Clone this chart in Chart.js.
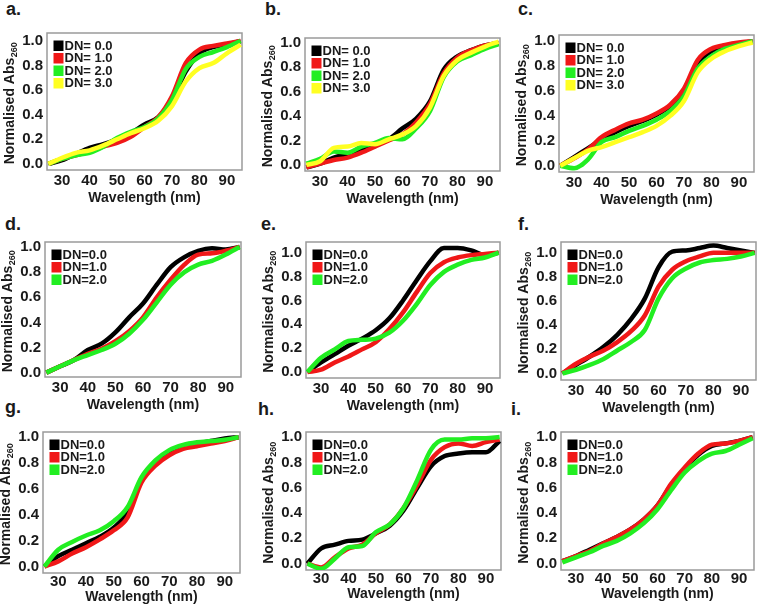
<!DOCTYPE html>
<html>
<head>
<meta charset="utf-8">
<script src="https://cdn.jsdelivr.net/npm/chart.js@4.4.0/dist/chart.umd.min.js"></script>
<style>
  body { margin: 0; background: #fff; width: 758px; height: 607px; position: relative; overflow: hidden; }
  canvas.p { position: absolute; }
  .lbl { position: absolute; font: bold 18px "Liberation Sans", Arial, sans-serif; line-height: 18px; color: #1a1a1a; }
</style>
</head>
<body>
<div class="lbl" style="left:6px;top:0px">a.</div>
<div class="lbl" style="left:265px;top:0px">b.</div>
<div class="lbl" style="left:518px;top:0px">c.</div>
<div class="lbl" style="left:5px;top:215px">d.</div>
<div class="lbl" style="left:261px;top:215px">e.</div>
<div class="lbl" style="left:518px;top:215px">f.</div>
<div class="lbl" style="left:5px;top:398px">g.</div>
<div class="lbl" style="left:258px;top:400px">h.</div>
<div class="lbl" style="left:511px;top:400px">i.</div>

<canvas class="p" id="ca"></canvas>
<canvas class="p" id="cb"></canvas>
<canvas class="p" id="cc"></canvas>
<canvas class="p" id="cd"></canvas>
<canvas class="p" id="ce"></canvas>
<canvas class="p" id="cf"></canvas>
<canvas class="p" id="cg"></canvas>
<canvas class="p" id="ch"></canvas>
<canvas class="p" id="ci"></canvas>

<script>
// --- data ---
const wavelength = [25, 30, 35, 40, 45, 50, 55, 60, 65, 70, 75, 80, 85, 90, 95];
const xTicks = [30, 40, 50, 60, 70, 80, 90];
const yTicks = [0, 0.2, 0.4, 0.6, 0.8, 1.0];
const labels4 = ['DN= 0.0', 'DN= 1.0', 'DN= 2.0', 'DN= 3.0'];
const labels3 = ['DN=0.0', 'DN=1.0', 'DN=2.0'];

// a.
const aDN0 = [0.00, 0.03, 0.08, 0.13, 0.16, 0.20, 0.25, 0.32, 0.38, 0.52, 0.75, 0.90, 0.95, 0.97, 1.00];
const aDN1 = [0.00, 0.04, 0.07, 0.10, 0.14, 0.17, 0.22, 0.30, 0.38, 0.55, 0.82, 0.93, 0.96, 0.98, 1.00];
const aDN2 = [0.00, 0.04, 0.07, 0.09, 0.14, 0.21, 0.26, 0.30, 0.37, 0.52, 0.77, 0.87, 0.91, 0.95, 1.00];
const aDN3 = [0.00, 0.05, 0.09, 0.11, 0.15, 0.20, 0.25, 0.29, 0.35, 0.47, 0.67, 0.78, 0.82, 0.90, 0.97];
// b.
const bDN0 = [-0.02, 0.01, 0.06, 0.09, 0.12, 0.16, 0.21, 0.30, 0.38, 0.52, 0.78, 0.89, 0.94, 0.98, 1.00];
const bDN1 = [-0.02, 0.01, 0.04, 0.06, 0.10, 0.15, 0.20, 0.25, 0.35, 0.50, 0.75, 0.88, 0.94, 0.98, 1.00];
const bDN2 = [0.01, 0.05, 0.11, 0.10, 0.15, 0.18, 0.22, 0.21, 0.30, 0.44, 0.72, 0.85, 0.90, 0.95, 0.99];
const bDN3 = [0.00, 0.03, 0.14, 0.15, 0.18, 0.17, 0.21, 0.25, 0.32, 0.47, 0.73, 0.86, 0.92, 0.97, 1.01];
// c.
const cDN0 = [0.00, 0.07, 0.14, 0.21, 0.27, 0.32, 0.36, 0.41, 0.48, 0.60, 0.82, 0.92, 0.96, 0.98, 1.00];
const cDN1 = [0.00, 0.06, 0.13, 0.23, 0.29, 0.34, 0.37, 0.42, 0.49, 0.62, 0.85, 0.94, 0.97, 0.99, 1.00];
const cDN2 = [0.00, -0.02, 0.05, 0.19, 0.23, 0.28, 0.32, 0.37, 0.44, 0.56, 0.78, 0.88, 0.94, 0.97, 1.00];
const cDN3 = [0.00, 0.06, 0.12, 0.15, 0.19, 0.23, 0.27, 0.32, 0.40, 0.52, 0.75, 0.86, 0.92, 0.96, 0.99];
// d.
const dDN0 = [0.00, 0.05, 0.10, 0.18, 0.23, 0.32, 0.44, 0.55, 0.70, 0.84, 0.92, 0.97, 0.99, 0.98, 1.00];
const dDN1 = [0.00, 0.05, 0.10, 0.15, 0.19, 0.25, 0.33, 0.44, 0.60, 0.74, 0.86, 0.94, 0.95, 0.97, 1.00];
const dDN2 = [0.00, 0.05, 0.10, 0.14, 0.18, 0.23, 0.31, 0.42, 0.56, 0.70, 0.80, 0.86, 0.89, 0.94, 1.00];
// e.
const eDN0 = [0.00, 0.08, 0.15, 0.22, 0.28, 0.35, 0.45, 0.60, 0.77, 0.93, 1.04, 1.04, 1.02, 0.98, 1.00];
const eDN1 = [0.00, 0.02, 0.08, 0.13, 0.19, 0.25, 0.36, 0.50, 0.67, 0.83, 0.92, 0.96, 0.98, 0.99, 1.00];
const eDN2 = [0.00, 0.12, 0.19, 0.26, 0.27, 0.28, 0.33, 0.43, 0.57, 0.73, 0.84, 0.90, 0.94, 0.96, 1.00];
// f.
const fDN0 = [0.00, 0.07, 0.14, 0.22, 0.32, 0.45, 0.62, 0.88, 1.01, 1.02, 1.04, 1.06, 1.04, 1.02, 1.00];
const fDN1 = [0.00, 0.08, 0.14, 0.19, 0.26, 0.35, 0.48, 0.72, 0.86, 0.93, 0.97, 1.00, 1.00, 1.00, 1.00];
const fDN2 = [0.00, 0.03, 0.07, 0.12, 0.19, 0.26, 0.36, 0.62, 0.79, 0.87, 0.92, 0.94, 0.95, 0.97, 1.00];
// g.
const gDN0 = [0.00, 0.08, 0.13, 0.18, 0.23, 0.30, 0.42, 0.68, 0.80, 0.88, 0.93, 0.95, 0.97, 0.99, 1.00];
const gDN1 = [0.00, 0.04, 0.10, 0.15, 0.21, 0.28, 0.38, 0.65, 0.78, 0.86, 0.91, 0.93, 0.95, 0.97, 1.00];
const gDN2 = [0.00, 0.13, 0.19, 0.24, 0.28, 0.35, 0.46, 0.69, 0.82, 0.90, 0.94, 0.96, 0.97, 0.98, 1.00];
// h.
const hDN0 = [0.00, 0.12, 0.15, 0.18, 0.19, 0.24, 0.30, 0.42, 0.60, 0.77, 0.85, 0.87, 0.88, 0.88, 0.97];
const hDN1 = [0.00, -0.03, 0.05, 0.12, 0.15, 0.24, 0.31, 0.44, 0.62, 0.82, 0.92, 0.95, 0.93, 0.96, 0.98];
const hDN2 = [0.00, -0.04, 0.04, 0.13, 0.14, 0.25, 0.31, 0.44, 0.66, 0.90, 0.98, 0.98, 0.99, 0.99, 1.00];
// i.
const iDN0 = [0.02, 0.06, 0.11, 0.16, 0.21, 0.27, 0.35, 0.46, 0.62, 0.75, 0.86, 0.93, 0.95, 0.97, 1.00];
const iDN1 = [0.02, 0.06, 0.10, 0.16, 0.21, 0.27, 0.35, 0.46, 0.63, 0.76, 0.87, 0.94, 0.95, 0.97, 1.00];
const iDN2 = [0.01, 0.05, 0.09, 0.14, 0.18, 0.24, 0.32, 0.43, 0.58, 0.72, 0.81, 0.87, 0.89, 0.94, 0.99];

const colours = ['#000000', '#f01818', '#22ee22', '#ffff22'];
const FONT = '"Liberation Sans", Arial, sans-serif';
const TXT = '#1a1a1a';

// frame around the plot area
const frame = {
  id: 'frame',
  beforeDatasetsDraw(chart) {
    const a = chart.chartArea, ctx = chart.ctx;
    ctx.save();
    ctx.strokeStyle = '#9a9a9a';
    ctx.lineWidth = 1.5;
    ctx.strokeRect(a.left, a.top, a.right - a.left, a.bottom - a.top);
    ctx.restore();
  }
};

// legend squares inside the top-left corner
const cornerLegend = {
  id: 'cornerLegend',
  afterDatasetsDraw(chart) {
    const a = chart.chartArea, ctx = chart.ctx;
    ctx.save();
    ctx.font = 'bold 13px ' + FONT;
    ctx.textBaseline = 'middle';
    chart.data.datasets.forEach((ds, i) => {
      const x = a.left + 6.5, y = a.top + 7.5 + i * 12.5;
      ctx.fillStyle = ds.borderColor;
      ctx.fillRect(x, y, 10, 10.5);
      ctx.fillStyle = TXT;
      ctx.fillText(ds.label, x + 11, y + 5.5);
    });
    ctx.restore();
  }
};

// rotated y title with subscript
const yTitle = {
  id: 'yTitle',
  afterDraw(chart) {
    const a = chart.chartArea, ctx = chart.ctx;
    const main = 'Normalised Abs', sub = '260';
    ctx.save();
    ctx.fillStyle = TXT;
    ctx.font = 'bold 14px ' + FONT;
    const w1 = ctx.measureText(main).width;
    ctx.font = 'bold 9px ' + FONT;
    const w2 = ctx.measureText(sub).width;
    ctx.translate(a.left - 37, (a.top + a.bottom) / 2 + 2);
    ctx.rotate(-Math.PI / 2);
    ctx.textBaseline = 'middle';
    ctx.font = 'bold 14px ' + FONT;
    ctx.fillText(main, -(w1 + w2) / 2, 0);
    ctx.font = 'bold 9px ' + FONT;
    ctx.fillText(sub, -(w1 + w2) / 2 + w1 + 0.5, 5);
    ctx.restore();
  }
};

const YW = 40;
// canvas cell and plot box for each panel (page pixels)
function panel(id, cell, box, yr, series, names, xh, tickPad) {
  const cv = document.getElementById(id);
  cv.width = cell[2]; cv.height = cell[3];
  cv.style.left = cell[0] + 'px'; cv.style.top = cell[1] + 'px';
  cv.style.width = cell[2] + 'px'; cv.style.height = cell[3] + 'px';
  const n = series.length;
  new Chart(cv, {
    type: 'line',
    data: {
      datasets: series.map((s, i) => ({
        label: names[i],
        data: wavelength.map((w, k) => ({ x: w, y: s[k] })),
        borderColor: colours[i],
        backgroundColor: colours[i],
        borderWidth: 4.5,
        pointRadius: 0,
        cubicInterpolationMode: 'monotone',
        order: n - i
      }))
    },
    options: {
      responsive: false,
      animation: false,
      events: [],
      layout: {
        padding: {
          left: box[0] - cell[0] - YW,
          top: box[1] - cell[1],
          right: cell[0] + cell[2] - box[2],
          bottom: cell[1] + cell[3] - box[3] - xh
        }
      },
      plugins: { legend: { display: false }, tooltip: { enabled: false } },
      scales: {
        x: {
          type: 'linear', min: 24.5, max: 95.5,
          grid: { display: false, drawTicks: false },
          border: { display: false },
          afterBuildTicks: s => { s.ticks = xTicks.map(v => ({ value: v })); },
          afterFit: s => { s.height = xh; },
          ticks: { font: { family: FONT, size: 15, weight: 'bold' }, color: TXT, padding: tickPad, maxRotation: 0 },
          title: { display: true, text: 'Wavelength (nm)', font: { family: FONT, size: 14, weight: 'bold' }, color: TXT, padding: 0 }
        },
        y: {
          min: yr[0], max: yr[1],
          grid: { display: false, drawTicks: false },
          border: { display: false },
          afterBuildTicks: s => { s.ticks = yTicks.map(v => ({ value: v })); },
          afterFit: s => { s.width = YW; },
          ticks: { font: { family: FONT, size: 15, weight: 'bold' }, color: TXT, padding: 4, callback: v => v.toFixed(1) }
        }
      }
    },
    plugins: [frame, cornerLegend, yTitle]
  });
}

panel('ca', [0, 0, 253, 215],   [47, 33, 242, 170],   [-0.05, 1.065], [aDN0, aDN1, aDN2, aDN3], labels4, 37, 2);
panel('cb', [253, 0, 253, 215], [305, 38, 500, 171],  [-0.05, 1.04],  [bDN0, bDN1, bDN2, bDN3], labels4, 37, 2);
panel('cc', [506, 0, 252, 215], [559, 35, 754, 172],  [-0.05, 1.05],  [cDN0, cDN1, cDN2, cDN3], labels4, 37, 2);
panel('cd', [0, 200, 253, 215], [45, 242, 241, 377],  [-0.035, 1.04], [dDN0, dDN1, dDN2], labels3, 37, 2);
panel('ce', [253, 200, 253, 215], [306, 242, 500, 378], [-0.05, 1.09], [eDN0, eDN1, eDN2], labels3, 37, 2);
panel('cf', [506, 200, 252, 215], [561, 242, 756, 380], [-0.055, 1.09], [fDN0, fDN1, fDN2], labels3, 37, 2);
panel('cg', [0, 400, 253, 207], [43, 432, 240, 573],  [-0.05, 1.04],  [gDN0, gDN1, gDN2], labels3, 33, 0);
panel('ch', [253, 400, 253, 207], [306, 432, 501, 570], [-0.05, 1.04], [hDN0, hDN1, hDN2], labels3, 33, 0);
panel('ci', [506, 400, 252, 207], [561, 432, 754, 570], [-0.05, 1.04], [iDN0, iDN1, iDN2], labels3, 33, 0);
</script>
</body>
</html>
